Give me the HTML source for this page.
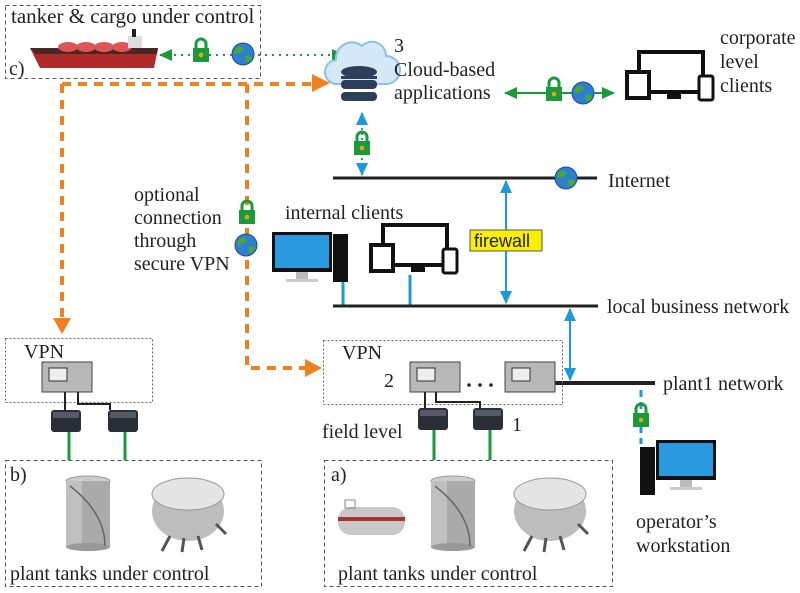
<!DOCTYPE html>
<html><head><meta charset="utf-8"><style>
html,body{margin:0;padding:0;background:#fff}
svg{display:block}
text{font-family:"Liberation Serif",serif;fill:#222}
</style></head><body>
<svg width="800" height="593" viewBox="0 0 800 593" xmlns="http://www.w3.org/2000/svg">
<defs>
<g id="lock"><path d="M-5,-4 v-4 a5,5 0 0 1 10,0 v4" fill="none" stroke="#1a9a3a" stroke-width="3"/><rect x="-8" y="-4" width="16" height="14" fill="#1a9a3a"/><circle cx="0" cy="3" r="2.3" fill="#f0a020"/></g>
<g id="globe"><circle r="11" fill="#2f7fd0"/><path d="M-7,-6 q5,-3 8,1 q-2,4 -6,4 q-2,3 -4,-1z M2,2 q5,-2 7,2 q-2,5 -6,4z" fill="#4aa53a"/><circle r="11" fill="none" stroke="#1c4f8a" stroke-width="1"/></g>
<marker id="ag" markerUnits="userSpaceOnUse" markerWidth="14" markerHeight="14" viewBox="0 0 14 14" refX="12" refY="7" orient="auto-start-reverse"><path d="M0,1 L13,7 L0,13z" fill="#1a9a3a"/></marker>
<marker id="ab" markerUnits="userSpaceOnUse" markerWidth="14" markerHeight="14" viewBox="0 0 14 14" refX="12" refY="7" orient="auto-start-reverse"><path d="M0,1 L13,7 L0,13z" fill="#1a9ad8"/></marker>
<g id="vpn"><rect x="0" y="0" width="50" height="30" fill="#b8b8b8" stroke="#444"/><rect x="7" y="6" width="18" height="13" fill="#eee" stroke="#333"/></g>
<g id="sensor"><rect x="0" y="0" width="30" height="22" rx="3" fill="#2a2e36"/><rect x="2" y="2" width="26" height="6" fill="#555b66"/></g>
<g id="mon"><rect x="0" y="0" width="60" height="40" fill="#111"/><rect x="3" y="3" width="54" height="33" fill="#2a9ae0"/><rect x="24" y="40" width="12" height="7" fill="#bbb"/><rect x="14" y="47" width="32" height="3" fill="#ccc"/></g>
<g id="devs"><rect x="12" y="0" width="64" height="40" fill="none" stroke="#111" stroke-width="4"/><rect x="0" y="20" width="22" height="26" fill="#fff" stroke="#111" stroke-width="4"/><rect x="28" y="38" width="40" height="4" fill="#111"/><rect x="40" y="42" width="14" height="5" fill="#111"/><rect x="72" y="24" width="14" height="24" rx="2" fill="#fff" stroke="#111" stroke-width="3"/></g>
<g id="silo"><ellipse cx="23" cy="3" rx="22" ry="5" fill="#ccc" stroke="#999"/><rect x="1" y="3" width="44" height="66" fill="#aaa"/><rect x="1" y="3" width="16" height="66" fill="#c0c0c0"/><ellipse cx="23" cy="69" rx="22" ry="4" fill="#999"/><path d="M5,8 Q40,35 40,68" stroke="#666" stroke-width="1.5" fill="none"/></g>
<g id="sph"><ellipse cx="38" cy="35" rx="36" ry="30" fill="#bdbdbd"/><ellipse cx="38" cy="18" rx="36" ry="16" fill="#e4e4e4" stroke="#999"/><path d="M20,60 l-8,15 M34,62 l-2,14 M48,60 l4,14 M66,48 l10,10" stroke="#555" stroke-width="3"/></g>
</defs>

<rect x="5.5" y="5.5" width="255" height="73" fill="none" stroke="#555" stroke-dasharray="4,3"/>
<text x="11" y="23" font-size="21">tanker &amp; cargo under control</text>
<text x="9" y="75" font-size="20">c)</text>
<path d="M30,48 L158,48 L154,68 L40,68 Z" fill="#b02a2a"/>
<path d="M30,48 L158,48 L157,54 L36,54Z" fill="#4a2626"/>
<g fill="#d55"><ellipse cx="68" cy="47" rx="10" ry="5"/><ellipse cx="86" cy="47" rx="10" ry="5"/><ellipse cx="104" cy="47" rx="10" ry="5"/><ellipse cx="122" cy="47" rx="10" ry="5"/></g>
<rect x="128" y="36" width="14" height="12" fill="#ddd"/><rect x="132" y="29" width="4" height="8" fill="#222"/>

<line x1="160" y1="55" x2="344" y2="55" stroke="#1a9a3a" stroke-width="2" stroke-dasharray="2,5" marker-start="url(#ag)" marker-end="url(#ag)"/>
<use href="#lock" x="201" y="52"/><use href="#globe" x="243" y="54"/>

<g stroke="#f08020" stroke-width="4" stroke-dasharray="9,7" fill="none">
<path d="M62,84 H316"/><path d="M62,84 V318"/><path d="M247,84 V368 H308"/>
</g>
<path d="M312,74 L330,83 L312,92z" fill="#f08020"/>
<path d="M53,318 L62,334 L71,318z" fill="#f08020"/>
<path d="M305,359 L322,368 L305,377z" fill="#f08020"/>
<use href="#lock" x="247" y="214"/><use href="#globe" x="246" y="245"/>
<text font-size="20"><tspan x="134" y="201">optional</tspan><tspan x="134" y="224">connection</tspan><tspan x="134" y="247">through</tspan><tspan x="134" y="270">secure VPN</tspan></text>

<path d="M338,84 a12,12 0 0 1 -2,-24 a16,16 0 0 1 26,-14 a14,14 0 0 1 24,10 a12,12 0 0 1 0,28z" fill="#d4e8f8" stroke="#8cc0e8" stroke-width="2"/>
<g fill="#2d3e5a"><ellipse cx="359" cy="72" rx="18" ry="6"/><rect x="341" y="80" width="36" height="9" rx="4"/><rect x="341" y="92" width="36" height="9" rx="4"/><rect x="341" y="76" width="36" height="3"/></g>
<text font-size="20"><tspan x="394" y="52">3</tspan><tspan x="394" y="76">Cloud-based</tspan><tspan x="394" y="99">applications</tspan></text>

<line x1="505" y1="93" x2="614" y2="93" stroke="#1a9a3a" stroke-width="2" marker-start="url(#ag)" marker-end="url(#ag)"/>
<use href="#lock" x="554" y="91"/><use href="#globe" x="583" y="93"/>
<use href="#devs" x="627" y="52"/>
<text font-size="20"><tspan x="720" y="44">corporate</tspan><tspan x="720" y="68">level</tspan><tspan x="720" y="92">clients</tspan></text>

<line x1="362" y1="113" x2="362" y2="175" stroke="#1a9ad8" stroke-width="2" stroke-dasharray="2,3" marker-start="url(#ab)" marker-end="url(#ab)"/>
<use href="#lock" x="362" y="145"/>

<line x1="333" y1="178" x2="597" y2="178" stroke="#222" stroke-width="3"/>
<use href="#globe" x="566" y="178"/>
<text x="608" y="187" font-size="20">Internet</text>
<line x1="506" y1="181" x2="506" y2="303" stroke="#1a9ad8" stroke-width="2" marker-start="url(#ab)" marker-end="url(#ab)"/>
<rect x="470" y="230" width="72" height="21" fill="#f8f000" stroke="#555"/>
<text x="474" y="247" font-size="18" style="font-family:'Liberation Sans',sans-serif">firewall</text>

<text x="285" y="219" font-size="20">internal clients</text>
<use href="#mon" x="272" y="232"/><rect x="333" y="234" width="15" height="48" fill="#111"/>
<line x1="343" y1="282" x2="343" y2="305" stroke="#1a9ad8" stroke-width="3"/>
<use href="#devs" x="371" y="225"/>
<line x1="410" y1="275" x2="410" y2="305" stroke="#1a9ad8" stroke-width="3"/>

<line x1="333" y1="306" x2="598" y2="306" stroke="#222" stroke-width="3"/>
<text x="607" y="313" font-size="20">local business network</text>
<line x1="570" y1="309" x2="570" y2="380" stroke="#1a9ad8" stroke-width="2" marker-start="url(#ab)" marker-end="url(#ab)"/>
<line x1="550" y1="383" x2="655" y2="383" stroke="#222" stroke-width="4"/>
<text x="663" y="390" font-size="20">plant1 network</text>

<rect x="323.5" y="340.5" width="239" height="64" fill="none" stroke="#666" stroke-dasharray="2,2"/>
<text x="342" y="359" font-size="20">VPN</text>
<text x="384" y="387" font-size="20">2</text>
<use href="#vpn" x="410" y="362"/><use href="#vpn" x="505" y="362"/>
<g fill="#222"><circle cx="469" cy="385" r="1.8"/><circle cx="480" cy="385" r="1.8"/><circle cx="491" cy="385" r="1.8"/></g>
<path d="M425,392 V410 M436,392 V402 H480 V410" stroke="#222" stroke-width="2" fill="none"/>
<use href="#sensor" x="418" y="408"/><use href="#sensor" x="473" y="408"/>
<text x="322" y="438" font-size="20">field level</text>
<text x="512" y="431" font-size="20">1</text>
<path d="M434,430 V460 M490,430 V460" stroke="#1a9a3a" stroke-width="3"/>

<rect x="5.5" y="338.5" width="147" height="64" fill="none" stroke="#666" stroke-dasharray="2,2"/>
<text x="24" y="358" font-size="20">VPN</text>
<use href="#vpn" x="42" y="362"/>
<path d="M65,392 V410 M78,392 V404 H110 V410" stroke="#222" stroke-width="2" fill="none"/>
<use href="#sensor" x="51" y="410"/><use href="#sensor" x="108" y="410"/>
<path d="M69,432 V460 M125,432 V460" stroke="#1a9a3a" stroke-width="3"/>

<rect x="5.5" y="460.5" width="256" height="126" fill="none" stroke="#555" stroke-dasharray="4,3"/>
<text x="10" y="481" font-size="20">b)</text>
<use href="#silo" x="65" y="478"/>
<use href="#sph" x="150" y="476"/>
<text x="10" y="580" font-size="20">plant tanks under control</text>

<rect x="324.5" y="460.5" width="288" height="126" fill="none" stroke="#555" stroke-dasharray="4,3"/>
<text x="331" y="481" font-size="20">a)</text>
<g><rect x="338" y="507" width="67" height="28" rx="13" fill="#c8c8c8"/><rect x="338" y="517" width="67" height="4" fill="#a33"/><rect x="345" y="500" width="10" height="8" fill="none" stroke="#888"/></g>
<use href="#silo" x="430" y="478"/>
<use href="#sph" x="512" y="476"/>
<text x="338" y="580" font-size="20">plant tanks under control</text>

<line x1="641" y1="390" x2="641" y2="444" stroke="#1a9ad8" stroke-width="3" stroke-dasharray="7,5"/>
<use href="#lock" x="641" y="417"/>
<rect x="640" y="447" width="15" height="48" fill="#111"/>
<use href="#mon" x="656" y="440"/>
<text font-size="20"><tspan x="636" y="528">operator’s</tspan><tspan x="636" y="552">workstation</tspan></text>
</svg>
</body></html>
